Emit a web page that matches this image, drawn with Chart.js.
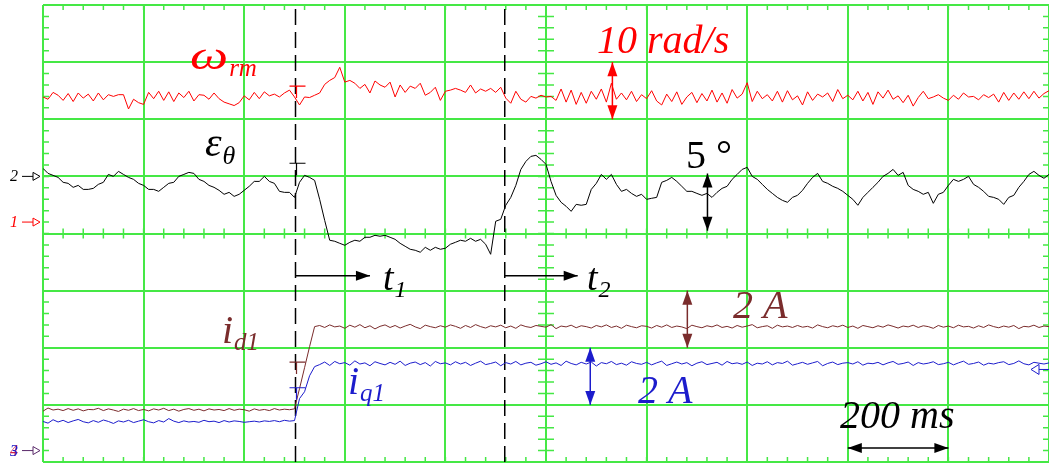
<!DOCTYPE html>
<html>
<head>
<meta charset="utf-8">
<script src="https://cdn.jsdelivr.net/npm/chart.js@4.4.0/dist/chart.umd.min.js"></script>
<style>
    html, body { margin: 0; padding: 0; background: #fff; overflow: hidden; }
</style>
</head>
<body>
<canvas id="osciloscopio" width="1049" height="463"></canvas>
<script>
// amostragem do osciloscopio: 200 ms por divisao, 10 divisoes
const passoMs = 10;
const tempoTotal = 2000;
const instanteT1 = 502;
const instanteT2 = 918;

// canal 1 - velocidade do rotor (rad/s)
const velocidade = [
    21.9, 21.5, 22.7, 22.2, 21.3, 22.5, 21.1, 22.6, 21.7, 22.4,
    21.2, 22.6, 21.4, 22.3, 22.0, 22.3, 22.3, 19.8, 21.5, 20.9,
    20.6, 22.7, 21.6, 22.9, 21.3, 22.8, 21.1, 22.6, 21.8, 22.9,
    21.2, 22.3, 22.2, 21.5, 22.6, 21.6, 21.0, 20.7, 20.4, 20.9,
    22.1, 21.4, 22.7, 21.6, 22.8, 22.1, 22.4, 21.9, 22.6, 23.1,
    21.9, 20.5, 21.9, 21.8, 22.2, 22.6, 24.1, 24.8, 25.3, 27.1,
    24.5, 24.8, 24.3, 23.4, 24.1, 22.6, 24.7, 24.0, 23.6, 24.5,
    21.9, 24.0, 22.7, 23.8, 23.4, 24.3, 22.2, 22.7, 23.6, 21.3,
    22.9, 23.1, 23.4, 23.1, 22.7, 24.0, 22.6, 23.3, 22.9, 23.4,
    22.7, 23.6, 21.7, 20.8, 22.9, 21.5, 21.0, 22.0, 21.7, 22.2,
    21.9, 22.0, 21.3, 23.3, 21.0, 23.1, 20.6, 22.7, 20.8, 22.9,
    21.5, 23.3, 21.0, 24.3, 21.5, 22.6, 21.4, 22.9, 21.1, 22.3,
    21.6, 23.0, 21.2, 20.5, 22.4, 21.1, 22.8, 20.6, 21.9, 22.7,
    20.9, 22.5, 21.2, 23.1, 21.0, 22.6, 20.8, 23.2, 21.7, 22.4,
    24.4, 21.1, 22.9, 21.6, 22.3, 21.2, 22.9, 21.0, 23.0, 21.4,
    22.1, 20.5, 22.8, 21.3, 22.4, 21.9, 22.6, 21.1, 23.2, 21.6,
    22.2, 21.4, 22.9, 21.2, 22.7, 20.6, 22.8, 21.7, 23.1, 21.5,
    22.1, 20.9, 22.2, 20.3, 21.8, 22.9, 21.6, 21.9, 22.3, 21.7,
    21.3, 22.2, 21.5, 22.6, 21.9, 22.0, 21.4, 22.3, 21.8, 22.4,
    21.0, 22.7, 21.3, 22.6, 21.5, 22.8, 21.6, 22.9, 21.7, 22.5,
    23.0
];

// canal 2 - erro de posicao (graus)
const erroPosicao = [
    0.70, 0.26, 0.09, -0.09, -0.52, -0.61, -0.96, -0.79, -1.14, -1.14,
    -1.05, -0.70, -0.52, 0.17, 0.00, 0.44, 0.17, -0.09, -0.26, -0.61,
    -0.79, -1.14, -1.14, -1.31, -0.96, -0.61, -0.52, 0.00, 0.17, 0.35,
    0.26, -0.26, -0.44, -0.79, -0.96, -1.22, -1.57, -1.40, -1.75, -1.57,
    -1.22, -0.87, -0.44, -0.44, 0.00, -0.44, -0.61, -1.31, -1.40, -1.40,
    -1.84, -0.52, 0.09, -0.09, -0.35, -2.01, -3.85, -5.59, -5.68, -5.86,
    -6.03, -5.77, -5.59, -5.68, -5.33, -5.33, -5.16, -5.24, -5.16, -5.33,
    -5.51, -5.86, -6.12, -6.38, -6.47, -6.64, -6.21, -6.47, -6.21, -6.38,
    -6.29, -5.94, -5.77, -5.59, -5.68, -5.42, -5.68, -5.51, -5.94, -6.82,
    -3.93, -3.76, -2.53, -1.84, -0.79, 0.61, 1.31, 1.75, 1.84, 1.49,
    1.05, -0.44, -1.66, -2.27, -2.62, -3.06, -2.45, -2.53, -2.45, -1.14,
    -0.61, 0.17, -0.26, 0.17, -0.70, -1.31, -1.14, -1.49, -1.75, -1.57,
    -2.01, -1.92, -1.84, -0.52, -0.35, -0.09, -0.44, -0.87, -1.31, -1.31,
    -1.49, -1.66, -1.49, -1.84, -1.40, -1.05, -0.87, -0.26, 0.17, 0.61,
    0.79, 0.00, -0.26, -0.70, -1.14, -1.49, -1.84, -2.10, -2.27, -1.84,
    -1.66, -1.22, -0.61, -0.09, 0.26, -0.44, -0.61, -0.87, -1.05, -1.31,
    -1.66, -2.01, -2.53, -1.84, -1.40, -0.96, -0.52, 0.00, 0.26, 0.61,
    0.09, 0.35, -0.79, -1.14, -1.31, -1.57, -1.40, -2.36, -1.57, -1.40,
    -0.79, -0.26, -0.44, -0.26, 0.00, -0.70, -0.96, -1.31, -1.75, -1.84,
    -2.01, -2.45, -1.84, -1.66, -0.96, -0.44, 0.17, 0.44, 0.09, -0.17,
    0.17
];

// canal 3 - corrente de eixo d (A)
const correnteD = [
    1.38, 1.49, 1.42, 1.45, 1.40, 1.47, 1.41, 1.46, 1.39, 1.44,
    1.43, 1.48, 1.40, 1.46, 1.42, 1.37, 1.45, 1.41, 1.47, 1.40,
    1.44, 1.39, 1.46, 1.42, 1.48, 1.40, 1.45, 1.38, 1.44, 1.47,
    1.41, 1.45, 1.39, 1.46, 1.42, 1.44, 1.40, 1.47, 1.41, 1.45,
    1.43, 1.38, 1.46, 1.41, 1.44, 1.40, 1.47, 1.42, 1.45, 1.43,
    1.46, 2.17, 2.90, 3.64, 4.34, 4.38, 4.31, 4.40, 4.33, 4.36,
    4.28, 4.39, 4.32, 4.41, 4.30, 4.37, 4.26, 4.35, 4.40, 4.31,
    4.38, 4.29, 4.36, 4.42, 4.33, 4.27, 4.39, 4.34, 4.30, 4.37,
    4.32, 4.40, 4.35, 4.28, 4.38, 4.31, 4.41, 4.34, 4.29, 4.37,
    4.33, 4.39, 4.30, 4.36, 4.28, 4.40, 4.34, 4.31, 4.38, 4.35,
    4.32, 4.41, 4.27, 4.36, 4.33, 4.39, 4.30, 4.37, 4.34, 4.29,
    4.38, 4.33, 4.40, 4.31, 4.36, 4.28, 4.39, 4.34, 4.30, 4.37,
    4.35, 4.29, 4.38, 4.32, 4.40, 4.31, 4.36, 4.33, 4.27, 4.39,
    4.34, 4.30, 4.37, 4.33, 4.40, 4.31, 4.35, 4.29, 4.38, 4.32,
    4.36, 4.41, 4.30, 4.34, 4.37, 4.28, 4.39, 4.33, 4.36, 4.31,
    4.38, 4.32, 4.35, 4.29, 4.40, 4.34, 4.30, 4.37, 4.33, 4.39,
    4.31, 4.36, 4.28, 4.38, 4.34, 4.30, 4.37, 4.32, 4.40, 4.35,
    4.29, 4.36, 4.33, 4.39, 4.31, 4.37, 4.34, 4.28, 4.38, 4.32,
    4.36, 4.30, 4.39, 4.33, 4.35, 4.29, 4.37, 4.31, 4.40, 4.34,
    4.30, 4.36, 4.32, 4.38, 4.27, 4.35, 4.33, 4.39, 4.31, 4.36,
    4.34
];

// canal 4 - corrente de eixo q (A)
const correnteQ = [
    1.02, 0.96, 1.08, 1.00, 1.06, 0.98, 1.04, 1.09, 1.01, 0.97,
    1.05, 0.99, 1.07, 1.02, 0.95, 1.04, 1.00, 1.06, 0.98, 1.03,
    1.08, 1.01, 0.97, 1.05, 1.00, 1.12, 1.03, 0.98, 1.04, 1.00,
    1.02, 0.99, 1.06, 1.01, 1.03, 0.98, 1.05, 1.00, 1.04, 1.02,
    0.99, 1.01, 1.03, 1.00, 1.04, 1.02, 1.05, 1.01, 1.06, 1.03,
    1.05, 1.82, 2.06, 2.62, 2.94, 3.01, 3.10, 2.98, 3.12, 3.04,
    3.08, 2.99, 3.14, 3.03, 3.07, 2.97, 3.11, 3.05, 3.00, 3.09,
    3.02, 3.13, 2.98, 3.06, 3.10, 3.01, 3.08, 2.96, 3.12, 3.04,
    3.07, 3.00, 3.11, 3.03, 3.09, 2.98, 3.06, 3.13, 3.01, 3.05,
    3.10, 2.97, 3.08, 3.03, 3.12, 3.00, 3.06, 3.09, 2.99, 3.04,
    3.11, 3.02, 3.07, 2.98, 3.13, 3.05, 3.00, 3.09, 3.03, 3.10,
    2.96, 3.08, 3.04, 3.12, 3.01, 3.06, 2.99, 3.11, 3.05, 3.02,
    3.09, 3.00, 3.07, 3.13, 2.98, 3.04, 3.10, 3.03, 3.08, 2.97,
    3.06, 3.11, 3.01, 3.05, 3.09, 2.99, 3.12, 3.04, 3.07, 3.02,
    3.10, 2.98, 3.06, 3.03, 3.11, 3.00, 3.08, 3.05, 3.13, 2.99,
    3.04, 3.09, 3.02, 3.07, 3.12, 2.97, 3.05, 3.10, 3.01, 3.06,
    3.08, 3.03, 3.11, 2.99, 3.06, 3.04, 3.09, 3.00, 3.07, 3.12,
    3.02, 3.05, 3.10, 2.98, 3.08, 3.03, 3.06, 3.11, 3.01, 3.04,
    3.09, 3.00, 3.07, 3.13, 3.02, 3.05, 3.10, 2.99, 3.06, 3.03,
    3.08, 3.11, 3.01, 3.05, 3.14, 3.04, 3.00, 3.09, 3.06, 3.03,
    3.07
];

const corGrade = '#45e845';
const corVermelho = '#ff0000';
const corMarrom = '#7a2c2c';
const corAzul = '#1c1ccc';
const fonte = '"Liberation Serif", "Times New Roman", serif';

// zero de cada canal (em divisoes a partir de baixo) e escala por divisao
const canais = {
    velocidade: { zero: 4.2, escala: 10 },
    erro: { zero: 5, escala: 5 },
    corrente: { zero: 0.2, escala: 2 }
};

function paraDivisoes(valores, canal) {
    return valores.map((v, i) => ({ x: i * passoMs, y: canal.zero + v / canal.escala }));
}

function linhaTracejada(t) {
    return {
        data: [{ x: t, y: 0 }, { x: t, y: 8 }],
        borderColor: '#000',
        borderWidth: 1.5,
        borderDash: [16, 7]
    };
}

function ponta(ctx, x, y, ang, cor) {
    const c = Math.cos(ang), s = Math.sin(ang);
    ctx.fillStyle = cor;
    ctx.beginPath();
    ctx.moveTo(x, y);
    ctx.lineTo(x - 14 * c - 5 * s, y - 14 * s + 5 * c);
    ctx.lineTo(x - 14 * c + 5 * s, y - 14 * s - 5 * c);
    ctx.closePath();
    ctx.fill();
}

function seta(ctx, x1, y1, x2, y2, cor, dupla) {
    const ang = Math.atan2(y2 - y1, x2 - x1);
    ctx.strokeStyle = cor;
    ctx.lineWidth = 1.5;
    ctx.beginPath();
    ctx.moveTo(x1, y1);
    ctx.lineTo(x2, y2);
    ctx.stroke();
    ponta(ctx, x2, y2, ang, cor);
    if (dupla) ponta(ctx, x1, y1, ang + Math.PI, cor);
}

// texto com subscrito; largura = esticamento horizontal do simbolo principal
function rotulo(ctx, base, sub, x, y, cor, tam, largura = 1) {
    ctx.fillStyle = cor;
    ctx.font = `italic ${tam}px ${fonte}`;
    ctx.save();
    ctx.translate(x, y);
    ctx.scale(largura, 1);
    ctx.fillText(base, 0, 0);
    ctx.restore();
    const w = ctx.measureText(base).width * largura;
    ctx.font = `italic ${Math.round(tam * 0.62)}px ${fonte}`;
    ctx.fillText(sub, x + w + 1, y + Math.round(tam * 0.18));
}

// marcador de canal na margem esquerda (numero + seta vazada)
function marcadorCanal(ctx, texto, cor, y, corSeta) {
    ctx.fillStyle = cor;
    ctx.font = `italic 16px ${fonte}`;
    ctx.fillText(texto, 10, y + 5);
    ctx.strokeStyle = corSeta || cor;
    ctx.lineWidth = 1;
    ctx.beginPath();
    ctx.moveTo(22, y);
    ctx.lineTo(33, y);
    ctx.moveTo(33, y - 4);
    ctx.lineTo(40, y);
    ctx.lineTo(33, y + 4);
    ctx.closePath();
    ctx.stroke();
}

const pluginOsciloscopio = {
    id: 'osciloscopio',
    beforeDatasetsDraw(chart) {
        const { ctx, chartArea: a, scales: { x, y } } = chart;
        const xc = x.getPixelForValue(tempoTotal / 2);
        const yc = y.getPixelForValue(4);
        ctx.save();
        ctx.strokeStyle = corGrade;
        ctx.lineWidth = 1.5;
        ctx.beginPath();
        for (let k = 0; k <= 50; k++) {
            const px = x.getPixelForValue(k * 40);
            ctx.moveTo(px, a.top); ctx.lineTo(px, a.top + 5);
            ctx.moveTo(px, a.bottom - 5); ctx.lineTo(px, a.bottom);
            ctx.moveTo(px, yc - 5); ctx.lineTo(px, yc + 5);
        }
        for (let k = 0; k <= 40; k++) {
            const py = y.getPixelForValue(k * 0.2);
            ctx.moveTo(a.left, py); ctx.lineTo(a.left + 6, py);
            ctx.moveTo(a.right - 6, py); ctx.lineTo(a.right, py);
            ctx.moveTo(xc - 8, py); ctx.lineTo(xc + 8, py);
        }
        ctx.stroke();
        ctx.restore();
    },
    afterDatasetsDraw(chart) {
        const { ctx, scales: { x, y } } = chart;
        ctx.save();
        ctx.textBaseline = 'alphabetic';

        // cursores de disparo no instante t1
        const xt = x.getPixelForValue(instanteT1);
        [[corVermelho, 6.58], ['#000', 5.23], [corMarrom, 1.75], [corAzul, 1.30]].forEach(([cor, nivel]) => {
            const py = y.getPixelForValue(nivel);
            ctx.strokeStyle = cor;
            ctx.lineWidth = 1.2;
            ctx.beginPath();
            ctx.moveTo(xt - 6, py); ctx.lineTo(xt + 10, py);
            ctx.moveTo(xt + 1, py); ctx.lineTo(xt + 1, py + 12);
            ctx.stroke();
        });

        // setas de escala (uma divisao)
        seta(ctx, x.getPixelForValue(1132), y.getPixelForValue(7), x.getPixelForValue(1132), y.getPixelForValue(6), corVermelho, true);
        seta(ctx, x.getPixelForValue(1321), y.getPixelForValue(5.05), x.getPixelForValue(1321), y.getPixelForValue(4.05), '#000', true);
        seta(ctx, x.getPixelForValue(1281), y.getPixelForValue(3), x.getPixelForValue(1281), y.getPixelForValue(2), corMarrom, true);
        seta(ctx, x.getPixelForValue(1088), y.getPixelForValue(2), x.getPixelForValue(1088), y.getPixelForValue(1), corAzul, true);
        seta(ctx, x.getPixelForValue(1600), y.getPixelForValue(0.245), x.getPixelForValue(1800), y.getPixelForValue(0.245), '#000', true);

        // intervalos t1 e t2
        const yT = y.getPixelForValue(3.26);
        seta(ctx, xt, yT, x.getPixelForValue(650), yT, '#000', false);
        seta(ctx, x.getPixelForValue(instanteT2), yT, x.getPixelForValue(1063), yT, '#000', false);
        rotulo(ctx, 't', '1', 383, 290, '#000', 38);
        rotulo(ctx, 't', '2', 587, 290, '#000', 38);

        // nomes dos sinais
        rotulo(ctx, 'ω', 'rm', 190, 69, corVermelho, 40, 1.35);
        rotulo(ctx, 'ε', 'θ', 205, 156, '#000', 42);
        rotulo(ctx, 'i', 'd1', 222, 343, corMarrom, 40);
        rotulo(ctx, 'i', 'q1', 348, 394, corAzul, 40);

        ctx.font = `italic 40px ${fonte}`;
        ctx.fillStyle = corVermelho;
        ctx.fillText('10 rad/s', 597, 53);
        ctx.fillStyle = corMarrom;
        ctx.fillText('2 A', 733, 318);
        ctx.fillStyle = corAzul;
        ctx.fillText('2 A', 638, 403);
        ctx.fillStyle = '#000';
        ctx.fillText('200 ms', 840, 428);
        ctx.font = `40px ${fonte}`;
        ctx.fillText('5 °', 686, 168);

        // referencias de zero dos canais
        marcadorCanal(ctx, '2', '#000', y.getPixelForValue(canais.erro.zero));
        marcadorCanal(ctx, '1', corVermelho, y.getPixelForValue(canais.velocidade.zero));
        marcadorCanal(ctx, '4', '#d0204a', y.getPixelForValue(canais.corrente.zero), '#5a2a6a');
        ctx.fillStyle = corAzul;
        ctx.font = `italic 16px ${fonte}`;
        ctx.fillText('3', 10, y.getPixelForValue(canais.corrente.zero) + 5);

        // nivel de disparo na margem direita
        const yD = y.getPixelForValue(1.62);
        ctx.strokeStyle = corAzul;
        ctx.lineWidth = 1;
        ctx.beginPath();
        ctx.moveTo(1031, yD);
        ctx.lineTo(1039, yD - 5);
        ctx.lineTo(1039, yD + 5);
        ctx.closePath();
        ctx.moveTo(1039, yD);
        ctx.lineTo(1049, yD);
        ctx.stroke();
        ctx.restore();
    }
};

new Chart(document.getElementById('osciloscopio'), {
    type: 'line',
    data: {
        datasets: [
            { data: paraDivisoes(velocidade, canais.velocidade), borderColor: corVermelho, borderWidth: 1 },
            { data: paraDivisoes(erroPosicao, canais.erro), borderColor: '#000', borderWidth: 1 },
            { data: paraDivisoes(correnteD, canais.corrente), borderColor: corMarrom, borderWidth: 1 },
            { data: paraDivisoes(correnteQ, canais.corrente), borderColor: corAzul, borderWidth: 1 },
            linhaTracejada(instanteT1),
            linhaTracejada(instanteT2)
        ]
    },
    options: {
        responsive: false,
        animation: false,
        layout: { padding: { left: 43, top: 5, right: -2, bottom: 1 } },
        elements: { point: { radius: 0 }, line: { tension: 0 } },
        plugins: { legend: { display: false }, tooltip: { enabled: false } },
        scales: {
            x: {
                type: 'linear', min: 0, max: tempoTotal,
                ticks: { display: false, stepSize: 200 },
                grid: { color: corGrade, lineWidth: 2, drawTicks: false },
                border: { display: false }
            },
            y: {
                min: 0, max: 8,
                ticks: { display: false, stepSize: 1 },
                grid: { color: corGrade, lineWidth: 2, drawTicks: false },
                border: { display: false }
            }
        }
    },
    plugins: [pluginOsciloscopio]
});
</script>
</body>
</html>
